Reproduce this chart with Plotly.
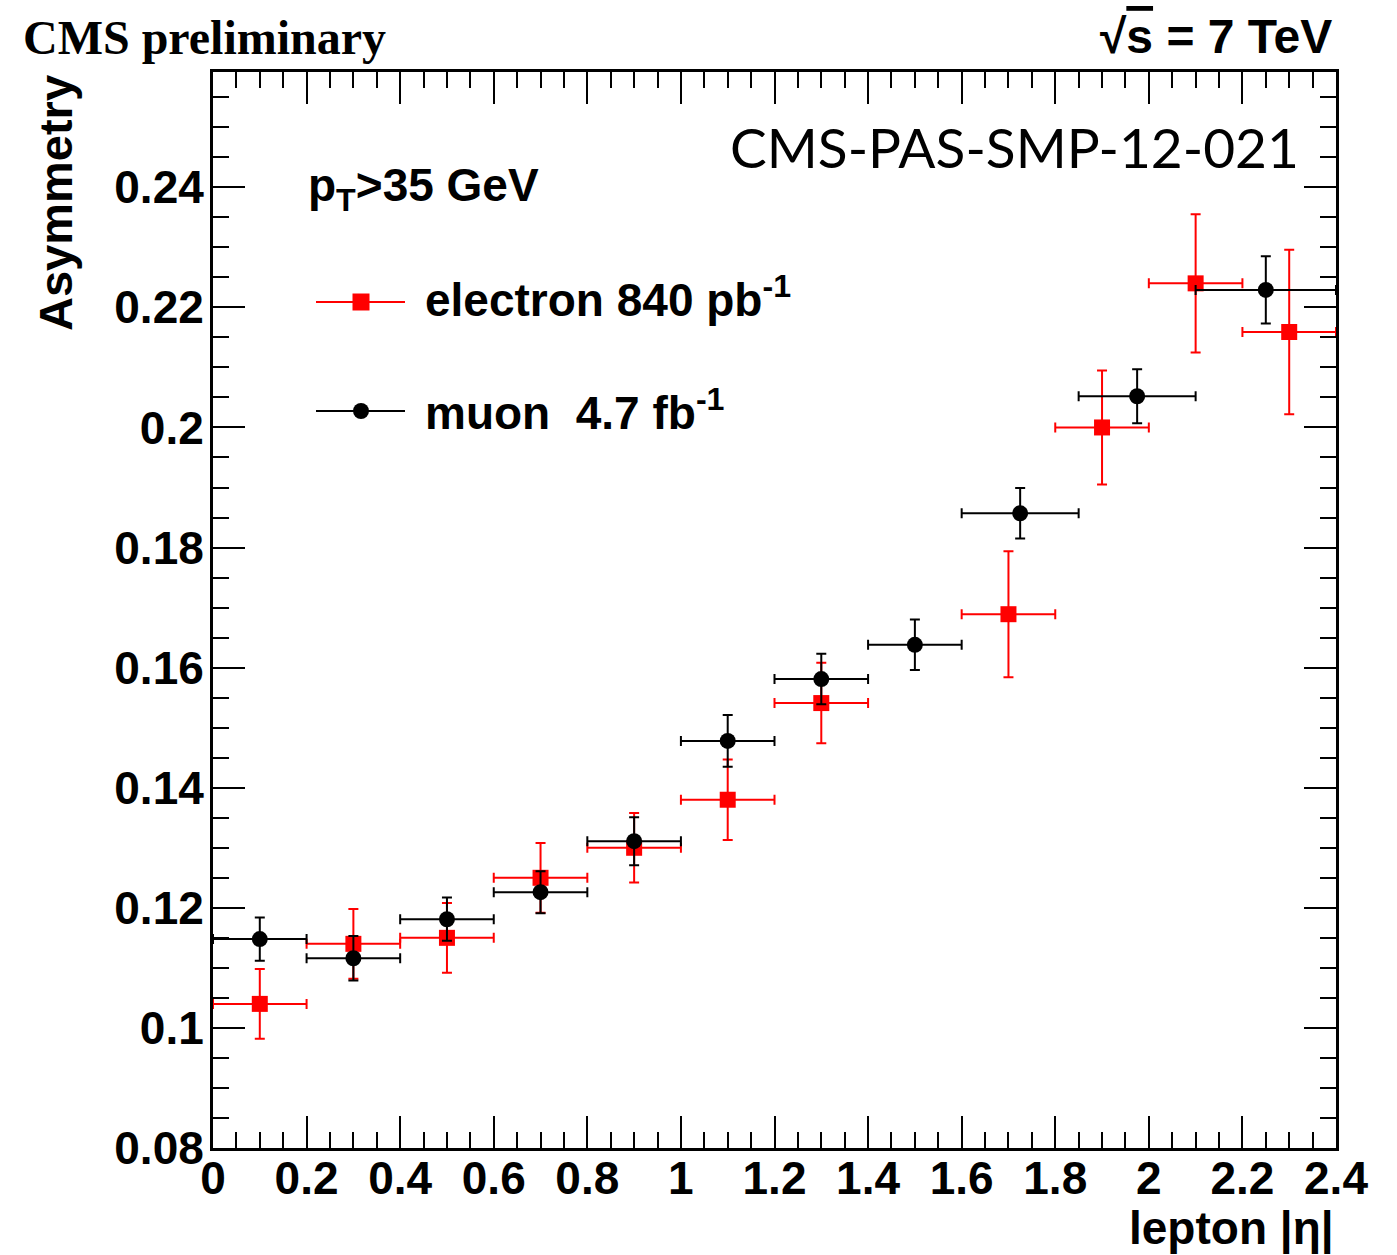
import plotly.graph_objects as go

# ---------------- data ----------------
eta_e = [0.1, 0.3, 0.5, 0.7, 0.9, 1.1, 1.3, 1.7, 1.9, 2.1, 2.3]
half_e = [0.1, 0.1, 0.1, 0.1, 0.1, 0.1, 0.1, 0.1, 0.1, 0.1, 0.1]
asym_e = [0.1040, 0.1140, 0.1150, 0.1250, 0.1300, 0.1380, 0.1541, 0.1689, 0.2000, 0.2240, 0.2159]
err_e = [0.0058, 0.0058, 0.0058, 0.0058, 0.0058, 0.0067, 0.0067, 0.0105, 0.0095, 0.0115, 0.0137]

eta_m = [0.1, 0.3, 0.5, 0.7, 0.9, 1.1, 1.3, 1.5, 1.725, 1.975, 2.25]
half_m = [0.1, 0.1, 0.1, 0.1, 0.1, 0.1, 0.1, 0.1, 0.125, 0.125, 0.15]
asym_m = [0.1148, 0.1116, 0.1181, 0.1226, 0.1311, 0.1478, 0.1581, 0.1638, 0.1857, 0.2052, 0.2229]
err_m = [0.0036, 0.0037, 0.0036, 0.0035, 0.0040, 0.0043, 0.0042, 0.0042, 0.0042, 0.0045, 0.0056]

x_tick_vals = [0, 0.2, 0.4, 0.6, 0.8, 1.0, 1.2, 1.4, 1.6, 1.8, 2.0, 2.2, 2.4]
x_tick_text = ["0", "0.2", "0.4", "0.6", "0.8", "1", "1.2", "1.4", "1.6", "1.8", "2", "2.2", "2.4"]
y_tick_vals = [0.08, 0.10, 0.12, 0.14, 0.16, 0.18, 0.20, 0.22, 0.24]
y_tick_text = ["0.08", "0.1", "0.12", "0.14", "0.16", "0.18", "0.2", "0.22", "0.24"]

# ---------------- layout geometry ----------------
W, H = 1397, 1255
L, R, T, B = 213, 61, 72, 107
PW, PH = W - L - R, H - T - B


def px(x):
    return (x - L) / PW


def py(y):
    return (H - B - y) / PH


RED = "#ff0000"
BLACK = "#000000"
SANS = "Liberation Sans"

fig = go.Figure()

fig.add_trace(go.Scatter(
    x=eta_e, y=asym_e, mode="markers", name="electron",
    marker=dict(symbol="square", size=16, color=RED),
    error_y=dict(type="data", array=err_e, color=RED, thickness=2, width=5),
    error_x=dict(type="data", array=half_e, color=RED, thickness=2, width=5),
    showlegend=False,
))
fig.add_trace(go.Scatter(
    x=eta_m, y=asym_m, mode="markers", name="muon",
    marker=dict(symbol="circle", size=16, color=BLACK),
    error_y=dict(type="data", array=err_m, color=BLACK, thickness=2, width=5),
    error_x=dict(type="data", array=half_m, color=BLACK, thickness=2, width=5),
    showlegend=False,
))

axis_common = dict(
    showline=True, linewidth=3, linecolor=BLACK, mirror="ticks",
    ticks="inside", ticklen=32, tickwidth=2, tickcolor=BLACK,
    showgrid=False, zeroline=False,
    tickfont=dict(family=SANS, size=46, color=BLACK, weight="bold"),
)

fig.update_xaxes(
    range=[0, 2.4], tickmode="array", tickvals=x_tick_vals, ticktext=x_tick_text,
    ticklabelstandoff=-12,
    minor=dict(ticks="inside", ticklen=16, tickwidth=2, tickcolor=BLACK,
               tickmode="linear", tick0=0, dtick=0.05, showgrid=False),
    **axis_common,
)
fig.update_yaxes(
    range=[0.08, 0.2592], tickmode="array", tickvals=y_tick_vals, ticktext=y_tick_text,
    ticklabelstandoff=-3,
    minor=dict(ticks="inside", ticklen=16, tickwidth=2, tickcolor=BLACK,
               tickmode="linear", tick0=0.08, dtick=0.005, showgrid=False),
    **axis_common,
)

shapes = []
# legend: electron
shapes.append(dict(type="line", xref="paper", yref="paper",
                   x0=px(316), x1=px(405), y0=py(302), y1=py(302),
                   line=dict(color=RED, width=2)))
shapes.append(dict(type="rect", xref="paper", yref="paper",
                   x0=px(361 - 8.5), x1=px(361 + 8.5), y0=py(302 + 8.5), y1=py(302 - 8.5),
                   fillcolor=RED, line=dict(width=0)))
# legend: muon
shapes.append(dict(type="line", xref="paper", yref="paper",
                   x0=px(316), x1=px(405), y0=py(411), y1=py(411),
                   line=dict(color=BLACK, width=2)))
shapes.append(dict(type="circle", xref="paper", yref="paper",
                   x0=px(361 - 8), x1=px(361 + 8), y0=py(411 + 8), y1=py(411 - 8),
                   fillcolor=BLACK, line=dict(width=0)))

annotations = [
    dict(text="<b>CMS preliminary</b>", x=px(21), y=py(38), xanchor="left", yanchor="middle",
         font=dict(family="Liberation Serif", size=48, color=BLACK)),
    dict(text="<b>√<span style='text-decoration:overline'>s</span> = 7 TeV</b>", x=px(1334), y=py(37),
         xanchor="right", yanchor="middle",
         font=dict(family=SANS, size=48, color=BLACK)),
    dict(text="CMS-PAS-SMP-12-021", x=px(1301), y=py(147), xanchor="right", yanchor="middle",
         font=dict(family="Lato", size=55, color=BLACK)),
    dict(text="<b>p<sub>T</sub>>35 GeV</b>", x=px(306), y=py(188), xanchor="left", yanchor="middle",
         font=dict(family=SANS, size=46, color=BLACK)),
    dict(text="<b>electron 840 pb<sup>-1</sup></b>", x=px(423), y=py(297), xanchor="left", yanchor="middle",
         font=dict(family=SANS, size=46, color=BLACK)),
    dict(text="<b>muon  4.7 fb<sup>-1</sup></b>", x=px(423), y=py(410), xanchor="left", yanchor="middle",
         font=dict(family=SANS, size=46, color=BLACK)),
    dict(text="<b>Asymmetry</b>", x=px(56), y=py(203), xanchor="center", yanchor="middle",
         textangle=-90, font=dict(family=SANS, size=47, color=BLACK)),
    dict(text="<b>lepton |η|</b>", x=1.0, y=py(1228), xanchor="right", yanchor="middle",
         font=dict(family=SANS, size=46, color=BLACK)),
]
for a in annotations:
    a.update(xref="paper", yref="paper", showarrow=False)

fig.update_layout(
    width=W, height=H,
    margin=dict(l=L, r=R, t=T, b=B, pad=0),
    paper_bgcolor="white", plot_bgcolor="white",
    shapes=shapes, annotations=annotations,
    showlegend=False,
)

fig.write_html("out.html")
